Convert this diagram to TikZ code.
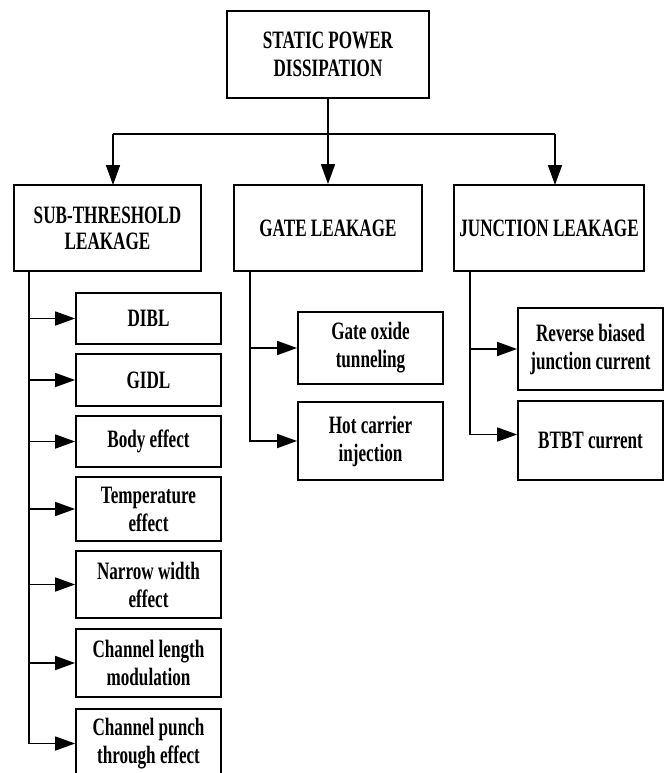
\documentclass[tikz,border=0pt]{standalone}
\usepackage{fontspec}
\setmainfont{Liberation Serif}[FakeStretch=0.685]
\usetikzlibrary{arrows.meta}
\tikzset{
  box/.style={draw, line width=1.8pt, inner sep=2pt, align=center, rectangle,
    font=\bfseries\fontsize{25}{28}\selectfont},
  ln/.style={line width=1.7pt},
  arr/.style={line width=1.7pt, -{Triangle[length=20pt,width=14pt]}},
}
\begin{document}
\begin{tikzpicture}[x=1pt,y=-1pt]
\useasboundingbox (0,0) rectangle (665,773);
\clip (0,0) rectangle (665,773);
% top
\node[box, minimum width=202pt, minimum height=87pt] (top) at (328,54.5) {STATIC POWER\\DISSIPATION};
% level 2
\node[box, minimum width=187pt, minimum height=86pt, font=\bfseries\fontsize{25}{26}\selectfont] (b1) at (107.5,228) {SUB-THRESHOLD\\LEAKAGE};
\node[box, minimum width=188pt, minimum height=86pt] (b2) at (328,228) {GATE LEAKAGE};
\node[box, minimum width=190pt, minimum height=86pt] (b3) at (549,228) {JUNCTION LEAKAGE};
% sub-threshold items
\node[box, minimum width=145pt, minimum height=51pt] (dibl) at (148.5,318.5) {DIBL};
\node[box, minimum width=145pt, minimum height=52pt] (gidl) at (148.5,380) {GIDL};
\node[box, minimum width=145pt, minimum height=51pt] (body) at (148.5,441.5) {Body effect};
\node[box, minimum width=145pt, minimum height=64pt] (temp) at (148.5,509) {Temperature\\effect};
\node[box, minimum width=145pt, minimum height=67pt] (narrow) at (148.5,584.5) {Narrow width\\effect};
\node[box, minimum width=145pt, minimum height=68pt] (chlen) at (148.5,663) {Channel length\\modulation};
\node[box, minimum width=145pt, minimum height=69pt] (punch) at (148.5,743.5) {Channel punch\\through effect};
% gate items
\node[box, minimum width=145pt, minimum height=72pt] (gox) at (370.5,348) {Gate oxide\\tunneling};
\node[box, minimum width=145pt, minimum height=78pt] (hot) at (370.5,441) {Hot carrier\\injection};
% junction items
\node[box, minimum width=145pt, minimum height=82pt] (rev) at (590.5,349) {Reverse biased\\junction current};
\node[box, minimum width=145pt, minimum height=79pt] (btbt) at (590.5,440.5) {BTBT current};
% top connectors
\coordinate (hl) at (113,134);
\coordinate (hr) at (555,134);
\coordinate (t1) at (113,185);
\coordinate (t3) at (555,185);
\draw[arr] (top.south) -- (b2.north);
\draw[ln] (hl) -- (hr);
\draw[arr] (hl) -- (t1);
\draw[arr] (hr) -- (t3);
% sub-threshold stem
\coordinate (s1) at (29,271);
\draw[arr] (s1) |- (punch.west);
\foreach \n in {dibl,gidl,body,temp,narrow,chlen}
  \draw[arr] (s1 |- \n.west) -- (\n.west);
% gate stem
\coordinate (s2) at (250,271);
\draw[arr] (s2) |- (hot.west);
\draw[arr] (s2 |- gox.west) -- (gox.west);
% junction stem
\coordinate (s3) at (470,271);
\coordinate (bt) at ([yshift=6pt]btbt.west);
\draw[arr] (s3) |- (bt);
\draw[arr] (s3 |- rev.west) -- (rev.west);
\end{tikzpicture}
\end{document}
